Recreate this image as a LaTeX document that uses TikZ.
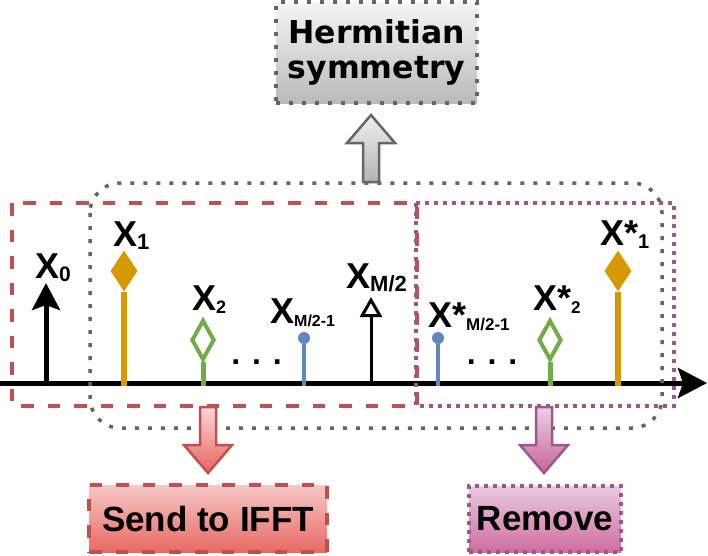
\documentclass[tikz,border=0pt]{standalone}
\usepackage{fontspec}
\setmainfont{Liberation Sans}
\newfontfamily\hermfont{DejaVu Sans}
\usepackage{tikz}
\usetikzlibrary{arrows.meta,shapes.geometric}

\definecolor{zonered}{RGB}{192,80,77}
\definecolor{zonepurple}{RGB}{155,88,138}
\definecolor{zonegray}{RGB}{100,100,100}
\definecolor{smporange}{RGB}{216,152,0}
\definecolor{smpgreen}{RGB}{112,173,71}
\definecolor{smpblue}{RGB}{95,135,192}

\newcommand{\xlab}[3][]{\fontsize{36}{36}\selectfont X#1\raisebox{-3pt}{\fontsize{#2}{#2}\selectfont #3}}
\newcommand{\blockarrow}[5]{\draw[#1](#2-8,#3)--(#2+8,#3)--(#2+8,#4)--(#2+24,#4)--(#2,#5)--(#2-24,#4)--(#2-8,#4)--cycle;}

\begin{document}
\begin{tikzpicture}[x=1pt,y=-1pt,
    grayzone/.style={draw=zonegray,line width=3.5pt,dash pattern=on 4pt off 9pt},
    redzone/.style={draw=zonered,line width=4pt,dash pattern=on 12.5pt off 14pt},
    purplezone/.style={draw=zonepurple,line width=4pt,dash pattern=on 4pt off 5pt},
    lab/.style={inner sep=0pt,anchor=base west,font=\bfseries},
    dotrow/.style={inner sep=0pt,anchor=base,font=\bfseries\fontsize{32}{32}\selectfont},
    bigfont/.style={font=\bfseries\fontsize{35}{35}\selectfont},
    hermbox/.style={grayzone,top color=black!4,bottom color=black!27,minimum width=201pt,minimum height=101pt,
      inner sep=0pt,align=center,font=\hermfont\bfseries\fontsize{31.5}{35}\selectfont},
    sendbox/.style={redzone,top color={rgb,255:red,246;green,200;blue,198},bottom color={rgb,255:red,232;green,105;blue,100},
      minimum width=238pt,minimum height=67pt,inner sep=0pt,bigfont},
    removebox/.style={purplezone,top color={rgb,255:red,232;green,202;blue,222},bottom color={rgb,255:red,208;green,110;blue,160},
      minimum width=152pt,minimum height=66pt,inner sep=0pt,bigfont},
    hermarrow/.style={draw=black!60,line width=2.5pt,top color=black!6,bottom color=black!30},
    sendarrow/.style={draw=zonered,line width=2.5pt,top color={rgb,255:red,250;green,215;blue,215},bottom color={rgb,255:red,230;green,100;blue,95}},
    removearrow/.style={draw=zonepurple,line width=2.5pt,top color={rgb,255:red,236;green,208;blue,228},bottom color={rgb,255:red,200;green,100;blue,150}}]
  \useasboundingbox (0,0) rectangle (708,555);
  % frequency axis
  \draw[-{Stealth[length=29pt,width=30pt,inset=5pt]},line width=5pt](0,383)--(707,383);
  \coordinate (k0) at (46,386);
  \coordinate (k1) at (124,386);
  \coordinate (k2) at (203,386);
  \coordinate (km1) at (304,386);
  \coordinate (km) at (371,386);
  \coordinate (kcm1) at (438,386);
  \coordinate (kc2) at (550,386);
  \coordinate (kc1) at (618,386);
  % samples
  \draw[-{Stealth[length=27pt,width=28pt,inset=5pt]},line width=5pt](k0)--(46,283);
  \node[diamond,fill=smporange,minimum width=27pt,minimum height=41pt,inner sep=0pt](d1) at (124,271){};
  \draw[smporange,line width=6pt](k1)--(d1.south);
  \node[diamond,draw=smpgreen,fill=white,line width=4pt,minimum width=23pt,minimum height=40pt,inner sep=0pt](d2) at (203,340){};
  \draw[smpgreen,line width=5pt](k2)--(d2.south);
  \node[circle,fill=smpblue,minimum size=12pt,inner sep=0pt](dm1) at (304,338){};
  \draw[smpblue,line width=3.5pt](km1)--(dm1.south);
  \draw[-{Triangle[open,length=20pt,width=22pt]},line width=3pt](km)--(371,297);
  \node[circle,fill=smpblue,minimum size=12pt,inner sep=0pt](dcm1) at (438,338){};
  \draw[smpblue,line width=3.5pt](kcm1)--(dcm1.south);
  \node[diamond,draw=smpgreen,fill=white,line width=4pt,minimum width=23pt,minimum height=40pt,inner sep=0pt](dc2) at (550,340){};
  \draw[smpgreen,line width=5pt](kc2)--(dc2.south);
  \node[diamond,fill=smporange,minimum width=27pt,minimum height=41pt,inner sep=0pt](dc1) at (618,271){};
  \draw[smporange,line width=6pt](kc1)--(dc1.south);
  \node[dotrow](dots1) at (256.5,364){. . .};
  \node[dotrow](dots2) at (492,364){. . .};
  % labels
  \node[lab](l0) at (35,278){\xlab{21}{0}};
  \node[lab](l1) at (113,246){\xlab{22}{1}};
  \node[lab](l2) at (192,310){\xlab{18}{2}};
  \node[lab](lm1) at (270,323){\xlab{16}{M/2-1}};
  \node[lab](lm) at (346,288){\xlab{22}{M/2}};
  \node[lab](lcm1) at (428,327){\xlab[*]{17}{M/2-1}};
  \node[lab](lc2) at (533,310){\xlab[*]{17}{2}};
  \node[lab](lc1) at (600,245){\xlab[*]{20}{1}};
  % zones
  \draw[redzone](12,203) rectangle (417,406);
  \draw[purplezone](416,203) rectangle (674,406);
  \draw[grayzone,rounded corners=30pt](90,183) rectangle (662,428);
  % boxes and block arrows
  \node[hermbox](herm) at (376.5,52.5){Hermitian\\symmetry};
  \node[sendbox](send) at (208,518.5){Send to IFFT};
  \node[removebox](remove) at (545,519){Remove};
  \blockarrow{hermarrow}{371}{182}{143}{115}
  \blockarrow{sendarrow}{208}{407}{445}{473}
  \blockarrow{removearrow}{544}{407}{445}{473}
\end{tikzpicture}
\end{document}
